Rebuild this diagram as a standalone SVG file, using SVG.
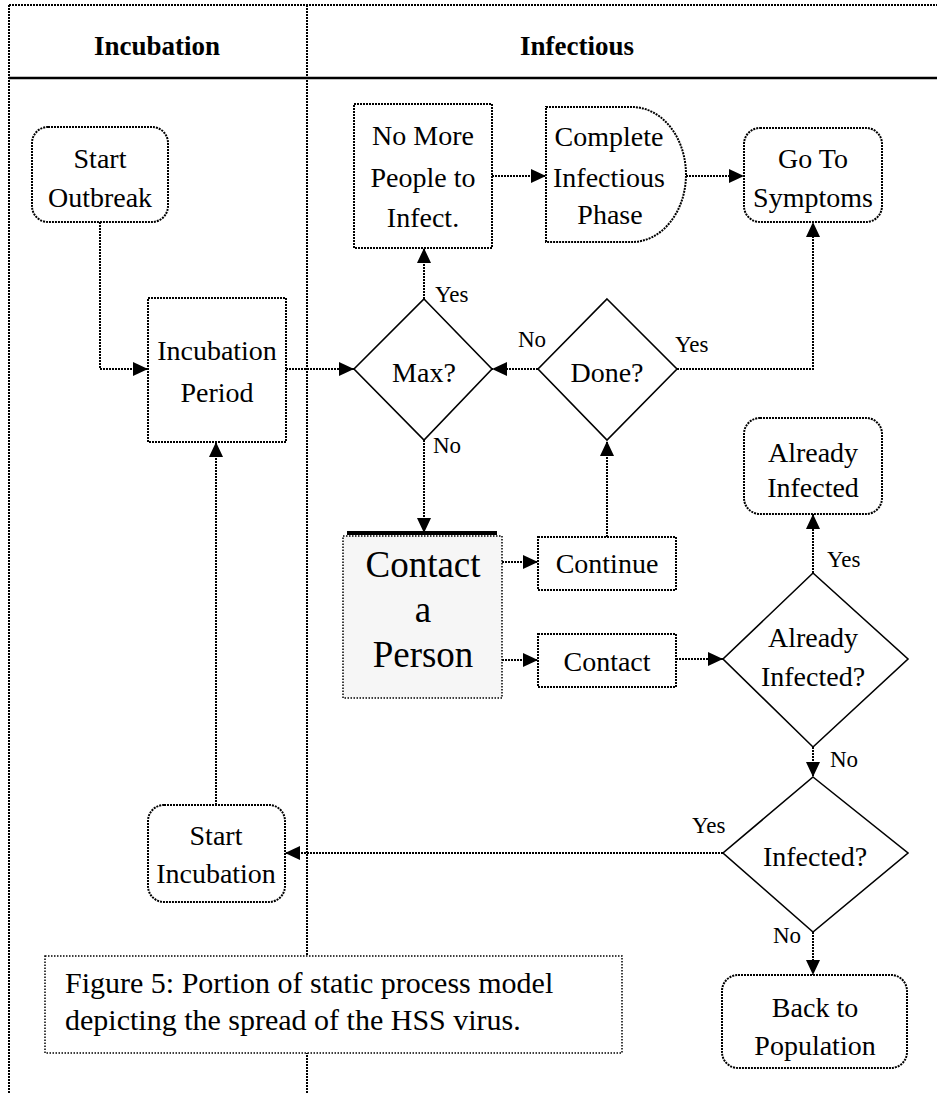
<svg xmlns="http://www.w3.org/2000/svg" width="937" height="1093" viewBox="0 0 937 1093">
<defs>
<style>
.t{font-family:"Liberation Serif","Times New Roman",serif;font-size:28px;fill:#000;text-anchor:middle}
.big{font-size:37px}
.lbl{font-family:"Liberation Serif","Times New Roman",serif;font-size:23px;fill:#000}
.hdr{font-family:"Liberation Serif","Times New Roman",serif;font-size:27px;font-weight:bold;fill:#000;text-anchor:middle}
.cap{font-family:"Liberation Serif","Times New Roman",serif;font-size:30px;fill:#000}
.box{fill:#fff;stroke:#000;stroke-width:2;stroke-dasharray:2 1}
.dia{fill:#fff;stroke:#000;stroke-width:1.6}
.frame{fill:none;stroke:#000;stroke-width:2;stroke-dasharray:2 1}
.con{fill:none;stroke:#000;stroke-width:2;stroke-dasharray:2 1;marker-end:url(#ah)}
</style>
<marker id="ah" markerUnits="userSpaceOnUse" markerWidth="16" markerHeight="14" refX="15" refY="7" orient="auto">
<path d="M0,0 L15,7 L0,14 z" fill="#000"/>
</marker>
</defs>

<g id="frame">
<line class="frame" x1="9" y1="5" x2="937" y2="5"/>
<line class="frame" x1="9" y1="5" x2="9" y2="1093"/>
<line class="frame" x1="307" y1="5" x2="307" y2="1093"/>
<line x1="9" y1="78" x2="937" y2="78" stroke="#000" stroke-width="2.5"/>
<text class="hdr" x="157" y="55">Incubation</text>
<text class="hdr" x="577" y="55">Infectious</text>
</g>

<g id="connectors">
<path class="con" d="M100,222 V369 H148"/>
<path class="con" d="M286,369 H354"/>
<path class="con" d="M424,299 V248"/>
<path class="con" d="M538,369 H492"/>
<path class="con" d="M677,369 H813 V222"/>
<path class="con" d="M492,176 H546"/>
<path class="con" d="M686,176 H744"/>
<path class="con" d="M424,440 V533"/>
<path class="con" d="M502,562 H538"/>
<path class="con" d="M502,660 H538"/>
<path class="con" d="M607,537 V441"/>
<path class="con" d="M676,659 H723"/>
<path class="con" d="M813,573 V514"/>
<path class="con" d="M813,747 V777"/>
<path class="con" d="M723,853 H285"/>
<path class="con" d="M813,932 V975"/>
<path class="con" d="M216,805 V442"/>
<text class="lbl" x="435" y="302">Yes</text>
<text class="lbl" x="518" y="347">No</text>
<text class="lbl" x="675" y="352">Yes</text>
<text class="lbl" x="433" y="453">No</text>
<text class="lbl" x="827" y="567">Yes</text>
<text class="lbl" x="830" y="767">No</text>
<text class="lbl" x="692" y="833">Yes</text>
<text class="lbl" x="773" y="943">No</text>
</g>

<g id="start-outbreak">
<rect class="box" x="32" y="127" width="136" height="95" rx="16"/>
<text class="t" x="100" y="168">Start</text>
<text class="t" x="100" y="207">Outbreak</text>
</g>

<g id="incubation-period">
<rect class="box" x="148" y="298" width="138" height="144"/>
<text class="t" x="217" y="360">Incubation</text>
<text class="t" x="217" y="402">Period</text>
</g>

<g id="no-more-people">
<rect class="box" x="354" y="104" width="138" height="144"/>
<text class="t" x="423" y="145">No More</text>
<text class="t" x="423" y="187">People to</text>
<text class="t" x="423" y="227">Infect.</text>
</g>

<g id="complete-infectious">
<path class="box" d="M546,107 H632 A54,67.5 0 0 1 632,242 H546 Z"/>
<text class="t" x="609" y="146">Complete</text>
<text class="t" x="609" y="187">Infectious</text>
<text class="t" x="610" y="224">Phase</text>
</g>

<g id="go-to-symptoms">
<rect class="box" x="744" y="128" width="138" height="94" rx="16"/>
<text class="t" x="813" y="168">Go To</text>
<text class="t" x="813" y="207">Symptoms</text>
</g>

<g id="max">
<polygon class="dia" points="424,299 492,369 424,440 354,369"/>
<text class="t" x="424" y="382">Max?</text>
</g>

<g id="done">
<polygon class="dia" points="607,299 677,369 607,440 538,369"/>
<text class="t" x="607" y="382">Done?</text>
</g>

<g id="contact-a-person">
<rect x="343" y="536" width="159" height="162" fill="#f6f6f6" stroke="#000" stroke-width="1.5" stroke-dasharray="1.5 1.5"/>
<line x1="347" y1="533" x2="497" y2="533" stroke="#000" stroke-width="4"/>
<text class="t big" x="423" y="577">Contact</text>
<text class="t big" x="423" y="622">a</text>
<text class="t big" x="423" y="667">Person</text>
</g>

<g id="continue">
<rect class="box" x="538" y="537" width="138" height="53"/>
<text class="t" x="607" y="573">Continue</text>
</g>

<g id="contact">
<rect class="box" x="538" y="634" width="138" height="53"/>
<text class="t" x="607" y="671">Contact</text>
</g>

<g id="already-infected">
<rect class="box" x="744" y="418" width="138" height="96" rx="16"/>
<text class="t" x="813" y="462">Already</text>
<text class="t" x="813" y="497">Infected</text>
</g>

<g id="already-infected-q">
<polygon class="dia" points="813,573 908,659 813,747 723,659"/>
<text class="t" x="813" y="647">Already</text>
<text class="t" x="813" y="686">Infected?</text>
</g>

<g id="infected-q">
<polygon class="dia" points="813,777 908,853 813,932 723,853"/>
<text class="t" x="815" y="866">Infected?</text>
</g>

<g id="back-to-population">
<rect class="box" x="722" y="975" width="185" height="93" rx="16"/>
<text class="t" x="815" y="1017">Back to</text>
<text class="t" x="815" y="1055">Population</text>
</g>

<g id="start-incubation">
<rect class="box" x="148" y="805" width="137" height="97" rx="16"/>
<text class="t" x="216" y="845">Start</text>
<text class="t" x="216" y="883">Incubation</text>
</g>

<g id="caption">
<rect x="45" y="956" width="577" height="97" fill="#fff" stroke="#000" stroke-width="1.5" stroke-dasharray="1.5 1.5"/>
<text class="cap" x="65" y="993">Figure 5: Portion of static process model</text>
<text class="cap" x="65" y="1030">depicting the spread of the HSS virus.</text>
</g>
</svg>
